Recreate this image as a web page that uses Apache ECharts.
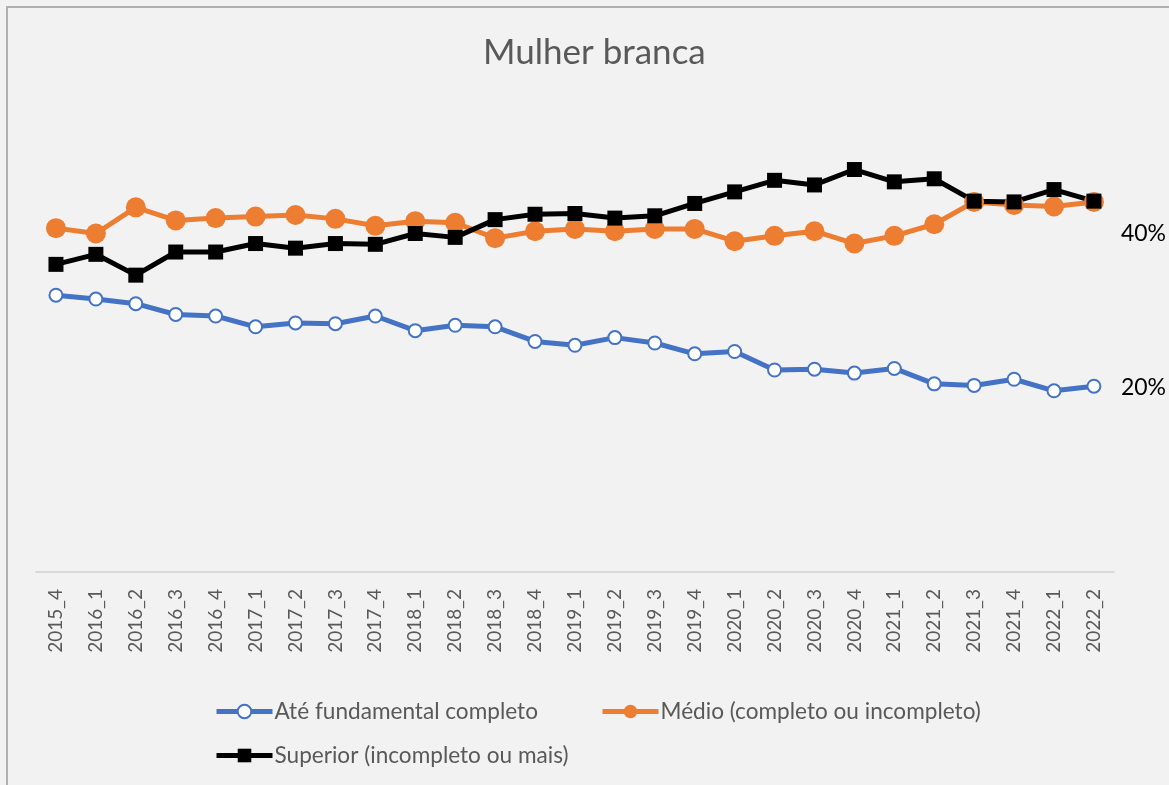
<!DOCTYPE html>
<html>
<head>
<meta charset="utf-8">
<title>Mulher branca</title>
<script src="https://cdn.jsdelivr.net/npm/echarts@6/dist/echarts.min.js"></script>
<style>
    html, body { margin: 0; padding: 0; background: #f2f2f2; overflow: hidden; }
    #frame {
        position: absolute; left: 6px; top: 6px; width: 1200px; height: 800px;
        border-left: 2px solid #b0b0b0; border-top: 2px solid #b0b0b0;
    }
    #chart { position: absolute; left: 0; top: 0; width: 1169px; height: 785px; }
</style>
</head>
<body>
<div id="frame"></div>
<div id="chart"></div>
<script>
// Quarters (ano_trimestre)
const quarters = [
    '2015_4', '2016_1', '2016_2', '2016_3', '2016_4', '2017_1', '2017_2', '2017_3', '2017_4',
    '2018_1', '2018_2', '2018_3', '2018_4', '2019_1', '2019_2', '2019_3', '2019_4',
    '2020_1', '2020_2', '2020_3', '2020_4', '2021_1', '2021_2', '2021_3', '2021_4',
    '2022_1', '2022_2'
];

// Share (%) by schooling level
const fundamental = [
    32.0, 31.5, 30.9, 29.5, 29.3, 27.9, 28.4, 28.3, 29.3,
    27.4, 28.1, 27.9, 26.0, 25.5, 26.5, 25.8, 24.4,
    24.7, 22.3, 22.4, 21.9, 22.5, 20.5, 20.3, 21.1,
    19.6, 20.2
];
const medio = [
    40.7, 40.0, 43.4, 41.7, 42.0, 42.2, 42.4, 41.9, 41.0,
    41.6, 41.4, 39.4, 40.3, 40.6, 40.3, 40.6, 40.6,
    39.0, 39.7, 40.3, 38.7, 39.7, 41.2, 44.1, 43.7,
    43.5, 44.1
];
const superior = [
    36.0, 37.3, 34.6, 37.6, 37.6, 38.7, 38.1, 38.7, 38.6,
    40.0, 39.5, 41.8, 42.5, 42.6, 42.0, 42.3, 43.9,
    45.4, 46.9, 46.3, 48.3, 46.7, 47.1, 44.2, 44.1,
    45.7, 44.2
];

const seriesNames = [
    'Até fundamental completo',
    'Médio (completo ou incompleto)',
    'Superior (incompleto ou mais)'
];
const yLabelValues = [20, 40];

const FONT = 'Lato, "Open Sans", sans-serif';
const GREY = '#595959';

const chart = echarts.init(document.getElementById('chart'), null, { renderer: 'canvas' });

const legendBase = {
    itemWidth: 56, itemHeight: 17,
    lineStyle: { width: 5 },
    textStyle: { color: GREY, fontSize: 22.6, fontFamily: FONT, padding: [0, 0, 0, -3] }
};

chart.setOption({
    backgroundColor: 'transparent',
    animation: false,
    title: {
        text: 'Mulher branca',
        left: 478,
        top: 30,
        textStyle: { color: GREY, fontSize: 35, fontWeight: 'normal', fontFamily: FONT }
    },
    legend: [
        Object.assign({ left: 209, top: 695, data: [seriesNames[0]] }, legendBase),
        Object.assign({ left: 595, top: 695, data: [seriesNames[1]] }, legendBase),
        Object.assign({ left: 209, top: 739, data: [seriesNames[2]] }, legendBase)
    ],
    grid: { left: 36, right: 53, top: 141, bottom: 213, containLabel: false },
    xAxis: {
        type: 'category',
        data: quarters,
        boundaryGap: true,
        axisTick: { show: false },
        axisLine: { onZero: false, lineStyle: { color: '#d9d9d9', width: 2 } },
        axisLabel: {
            rotate: 90, interval: 0, margin: 17,
            color: GREY, fontSize: 19, fontFamily: FONT
        }
    },
    yAxis: {
        type: 'value',
        position: 'right',
        min: -3.9, max: 52,
        axisLine: { show: false },
        axisTick: { show: false },
        splitLine: { show: false },
        axisLabel: {
            customValues: yLabelValues,
            formatter: '{value}%',
            margin: 7,
            color: '#000', fontSize: 23, fontFamily: FONT
        }
    },
    series: [
        {
            name: seriesNames[0], type: 'line', data: fundamental,
            symbol: 'circle', symbolSize: 13,
            lineStyle: { color: '#4472C4', width: 5 },
            itemStyle: { color: '#ffffff', borderColor: '#4472C4', borderWidth: 2 }
        },
        {
            name: seriesNames[1], type: 'line', data: medio,
            symbol: 'circle', symbolSize: 20,
            lineStyle: { color: '#ED7D31', width: 5 },
            itemStyle: { color: '#ED7D31' }
        },
        {
            name: seriesNames[2], type: 'line', data: superior,
            symbol: 'rect', symbolSize: 15,
            lineStyle: { color: '#000000', width: 5 },
            itemStyle: { color: '#000000' }
        }
    ]
});
</script>
</body>
</html>
